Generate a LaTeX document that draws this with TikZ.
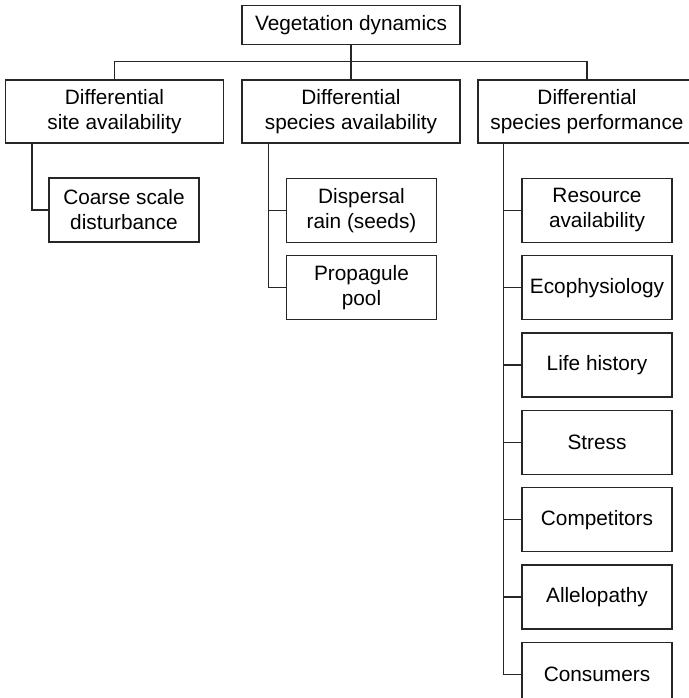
\documentclass[tikz,border=0pt]{standalone}
\usepackage{fontspec}
\setsansfont{Liberation Sans}
\usepackage{tikz}
\usetikzlibrary{positioning}

\begin{document}
\begin{tikzpicture}[x = 1pt, y = -1pt, node distance = 12pt,
box/.style = {draw = black!85, line width = 1.3pt, shape = rectangle, inner sep = 0pt, align = center, minimum width = 150pt, minimum height = 64pt, font = \sffamily\fontsize{20.8}{25}\selectfont},
wide/.style = {box, minimum width = 218pt, minimum height = 63pt},
link/.style = {draw = black!85, line width = 1.3pt}]
\useasboundingbox (0,0) rectangle (688,698);
\node[box, minimum width = 218pt, minimum height = 39pt] (0) at (351,25) {Vegetation dynamics};
\node[wide] (1) at (114.5,111.5) {Differential\\site availability};
\node[wide] (2) at (351,111.5) {Differential\\species availability};
\node[wide] (3) at (587,111.5) {Differential\\species performance};
\node[box] (11) at (124,210) {Coarse scale\\disturbance};
\node[box] (21) at (361.5,210.5) {Dispersal\\rain (seeds)};
\node[box, below = of 21] (22) {Propagule\\pool};
\node[box] (31) at (597,210.5) {Resource\\availability};
\node[box, below = of 31] (32) {Ecophysiology};
\node[box, below = of 32] (33) {Life history};
\node[box, below = of 33] (34) {Stress};
\node[box, below = of 34] (35) {Competitors};
\node[box, below = of 35] (36) {Allelopathy};
\node[box, below = of 36] (37) {Consumers};
\draw[link] (0.south) -- (2.north);
\draw[link] (1.north) -- ++(0,-18) -| (3.north);
\draw[link] ([xshift = 27pt]1.south west) |- (11.west);
\draw[link] ([xshift = 27pt]2.south west) |- (22.west);
\draw[link] (21.west) -| ([xshift = 27pt]2.south west);
\draw[link] ([xshift = 26pt]3.south west) |- (37.west);
\foreach \n in {31,...,36}
  \draw[link] (\n.west) -| ([xshift = 26pt]3.south west);
\end{tikzpicture}
\end{document}
